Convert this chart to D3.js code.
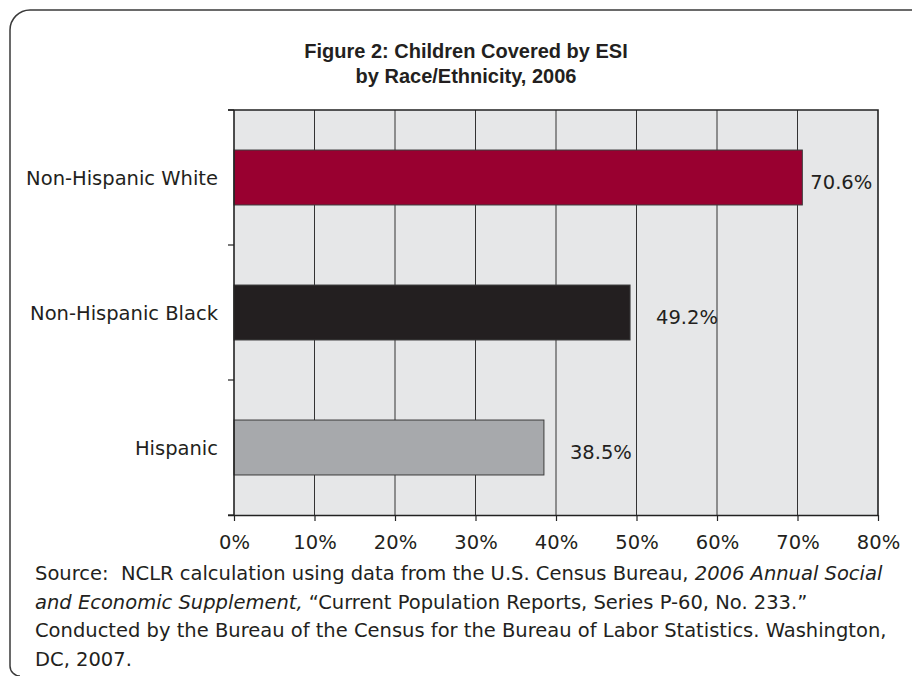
<!DOCTYPE html>
<html>
<head>
<meta charset="utf-8">
<script src="https://cdn.jsdelivr.net/npm/d3@7"></script>
<style>
  html, body { margin: 0; padding: 0; background: #ffffff; }
  svg { display: block; }
</style>
</head>
<body>
<svg id="chart" width="912" height="676"></svg>
<script>
// ESI coverage of children, by race/ethnicity (2006)
const categories = ["Non-Hispanic White", "Non-Hispanic Black", "Hispanic"];
const coverage = [70.6, 49.2, 38.5];
const barColors = ["#990030", "#231f20", "#a7a9ac"];
const tickValues = [0, 10, 20, 30, 40, 50, 60, 70, 80];
const titleLines = ["Figure 2: Children Covered by ESI", "by Race/Ethnicity, 2006"];

const svg = d3.select("#chart");
const ink = "#231f20";

// Rounded frame open to the right and bottom
svg.append("path")
  .attr("d", "M912,10 H30 A20,20 0 0 0 10,30 V666 A10,10 0 0 0 20,676")
  .attr("fill", "none")
  .attr("stroke", "#3a3a3a")
  .attr("stroke-width", 1.5);

// Title
const title = svg.append("text")
  .attr("text-anchor", "middle")
  .attr("font-family", "'Liberation Sans', Arial, sans-serif")
  .attr("font-weight", "bold")
  .attr("font-size", 20)
  .attr("fill", ink);
titleLines.forEach((line, i) => {
  title.append("tspan").attr("x", 466).attr("y", 58 + i * 25).text(line);
});

// Plot area
const plot = { left: 234, right: 878, top: 110, bottom: 515 };
const x = d3.scaleLinear().domain([0, 80]).range([plot.left, plot.right]);
const y = d3.scaleBand().domain(categories)
  .range([plot.top, plot.bottom])
  .paddingInner(0.593).paddingOuter(0.2965);

svg.append("rect")
  .attr("x", plot.left).attr("y", plot.top)
  .attr("width", plot.right - plot.left).attr("height", plot.bottom - plot.top)
  .attr("fill", "#e6e7e8");

// Vertical gridlines
svg.append("g").selectAll("line")
  .data(tickValues.filter(t => t > 0 && t < 80))
  .join("line")
  .attr("x1", d => x(d)).attr("x2", d => x(d))
  .attr("y1", plot.top).attr("y2", plot.bottom)
  .attr("stroke", "#333")
  .attr("stroke-width", 1);

// Top and right border of plot
svg.append("path")
  .attr("d", `M${plot.left - 6},${plot.top} H${plot.right} V${plot.bottom}`)
  .attr("fill", "none")
  .attr("stroke", "#222")
  .attr("stroke-width", 1.6);

// Bars
svg.append("g").selectAll("rect")
  .data(categories)
  .join("rect")
  .attr("x", x(0))
  .attr("y", d => y(d))
  .attr("width", (d, i) => x(coverage[i]) - x(0))
  .attr("height", y.bandwidth())
  .attr("fill", (d, i) => barColors[i])
  .attr("stroke", "#3b3b3b")
  .attr("stroke-width", 1);

// Value labels: placed after the bar, pulled in if they would cross the plot edge
const labelFont = 19.5;
svg.append("g").selectAll("text")
  .data(categories)
  .join("text")
  .attr("font-family", "'DejaVu Sans', Verdana, sans-serif")
  .attr("font-size", labelFont)
  .attr("fill", ink)
  .attr("y", d => y(d) + y.bandwidth() / 2 + 11.5)
  .text((d, i) => coverage[i].toFixed(1) + "%")
  .attr("x", function (d, i) {
    const end = x(coverage[i]);
    const w = this.getComputedTextLength();
    return end + 26 + w > plot.right ? end + 8 : end + 26;
  });

// Bottom axis
const xAxis = d3.axisBottom(x)
  .tickValues(tickValues)
  .tickFormat(d => d + "%")
  .tickSizeInner(6).tickSizeOuter(0)
  .tickPadding(14);
const gx = svg.append("g")
  .attr("transform", `translate(0,${plot.bottom})`)
  .call(xAxis);
gx.select(".domain").attr("stroke", "#222").attr("stroke-width", 1.6)
  .attr("d", `M${plot.left - 6},0.5H${plot.right}`);
gx.selectAll(".tick line").attr("stroke", "#222").attr("stroke-width", 1.2);
gx.selectAll(".tick text")
  .attr("font-family", "'DejaVu Sans', Verdana, sans-serif")
  .attr("font-size", 19.5)
  .attr("fill", ink);

// Left axis: ticks at category boundaries
const bounds = d3.range(categories.length + 1).map(i => plot.top + i * y.step());
svg.append("line")
  .attr("x1", plot.left).attr("x2", plot.left)
  .attr("y1", plot.top).attr("y2", plot.bottom)
  .attr("stroke", "#222").attr("stroke-width", 1.6);
svg.append("g").selectAll("line")
  .data(bounds)
  .join("line")
  .attr("x1", plot.left - 6).attr("x2", plot.left)
  .attr("y1", d => d).attr("y2", d => d)
  .attr("stroke", "#222").attr("stroke-width", 1.2);

// Category labels
svg.append("g").selectAll("text")
  .data(categories)
  .join("text")
  .attr("text-anchor", "end")
  .attr("x", plot.left - 16)
  .attr("y", d => y(d) + y.bandwidth() / 2 + 7.5)
  .attr("font-family", "'DejaVu Sans', Verdana, sans-serif")
  .attr("font-size", 19.5)
  .attr("fill", ink)
  .text(d => d);

// Source note
const sourceLines = [
  [["Source:  NCLR calculation using data from the U.S. Census Bureau, ", false], ["2006 Annual Social", true]],
  [["and Economic Supplement,", true], [" \u201CCurrent Population Reports, Series P-60, No. 233.\u201D", false]],
  [["Conducted by the Bureau of the Census for the Bureau of Labor Statistics. Washington,", false]],
  [["DC, 2007.", false]]
];
const note = svg.append("text")
  .attr("font-family", "'DejaVu Sans', Verdana, sans-serif")
  .attr("font-size", 19.5)
  .attr("fill", ink)
  .style("white-space", "pre");
sourceLines.forEach((parts, i) => {
  const line = note.append("tspan").attr("x", 35).attr("y", 580 + i * 28.7);
  parts.forEach(([txt, italic], j) => {
    const t = j === 0 ? line : note.append("tspan");
    t.text(txt).attr("font-style", italic ? "italic" : "normal");
  });
});
</script>
</body>
</html>
